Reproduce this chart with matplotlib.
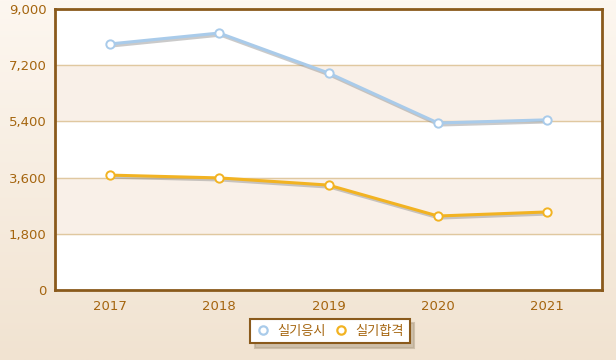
import matplotlib.pyplot as plt
import matplotlib.patheffects as pe
from matplotlib.lines import Line2D
import numpy as np

plt.rcParams['font.family'] = ['DejaVu Sans', 'Noto Sans CJK KR']

years = ['2017', '2018', '2019', '2020', '2021']
applicants = [7880, 8230, 6950, 5350, 5450]
passed = [3680, 3590, 3360, 2370, 2500]
yticks = [0, 1800, 3600, 5400, 7200, 9000]
names = ['실기응시', '실기합격']
colors = ['#a9cbea', '#f2b322']

brown = '#8a5a1c'
text_col = '#a5650f'

fig = plt.figure(figsize=(6.16, 3.6), dpi=100)

# background gradient
bg = fig.add_axes([0, 0, 1, 1], zorder=-10)
grad = np.linspace(0, 1, 256).reshape(-1, 1)
c_top = np.array([0xfd, 0xf7, 0xf0]) / 255
c_bot = np.array([0xf1, 0xe3, 0xd1]) / 255
img = c_top + (c_bot - c_top) * grad[:, :, None]
bg.imshow(img, aspect='auto', extent=[0, 1, 0, 1])
bg.axis('off')

ax = fig.add_axes([55 / 616, 1 - 290 / 360, 547 / 616, 281 / 360])
ax.set_facecolor('white')
ax.set_xlim(-0.5, 4.5)
ax.set_ylim(0, 9000)

for i in range(len(yticks) - 1):
    if i % 2 == 1:
        ax.axhspan(yticks[i], yticks[i + 1], color='#f9f0e8', zorder=0)
for y in yticks[1:-1]:
    ax.axhline(y, color='#e0c8a0', lw=1, zorder=1)

x = np.arange(len(years))
shadow = [pe.SimpleLineShadow(offset=(1, -1.5), shadow_color='#8a8a8a', alpha=0.45), pe.Normal()]
for vals, col, name in zip([applicants, passed], colors, names):
    ax.plot(x, vals, color=col, lw=2.2, zorder=3, path_effects=shadow)
    ax.plot(x, vals, ls='none', marker='o', ms=6, mfc='white', mec=col, mew=1.4, zorder=4)

ax.set_xticks(x, years)
ax.set_yticks(yticks, [f'{v:,}' for v in yticks])
ax.tick_params(length=0, colors=text_col, labelsize=9.5, pad=6)
ax.tick_params(axis='x', pad=7)
for s in ax.spines.values():
    s.set_color(brown)
    s.set_linewidth(2)

handles = [Line2D([], [], ls='none', marker='o', ms=6, mfc='white', mec=c, mew=1.6) for c in colors]
leg = ax.legend(handles, names, loc='center', bbox_to_anchor=(330 / 616, 1 - 331 / 360),
                bbox_transform=fig.transFigure, ncol=2, frameon=True, fancybox=False,
                shadow={'color': '#b8a890', 'alpha': 0.6, 'ox': 3, 'oy': -3}, fontsize=9.5,
                handlelength=1.0, columnspacing=0.6, handletextpad=0.6, borderpad=0.45)
leg.get_frame().set_edgecolor(brown)
leg.get_frame().set_linewidth(1.5)
for t in leg.get_texts():
    t.set_color(text_col)
    t.set_family(['Noto Sans CJK KR', 'DejaVu Sans'])

fig.savefig('out.png', dpi=100)
